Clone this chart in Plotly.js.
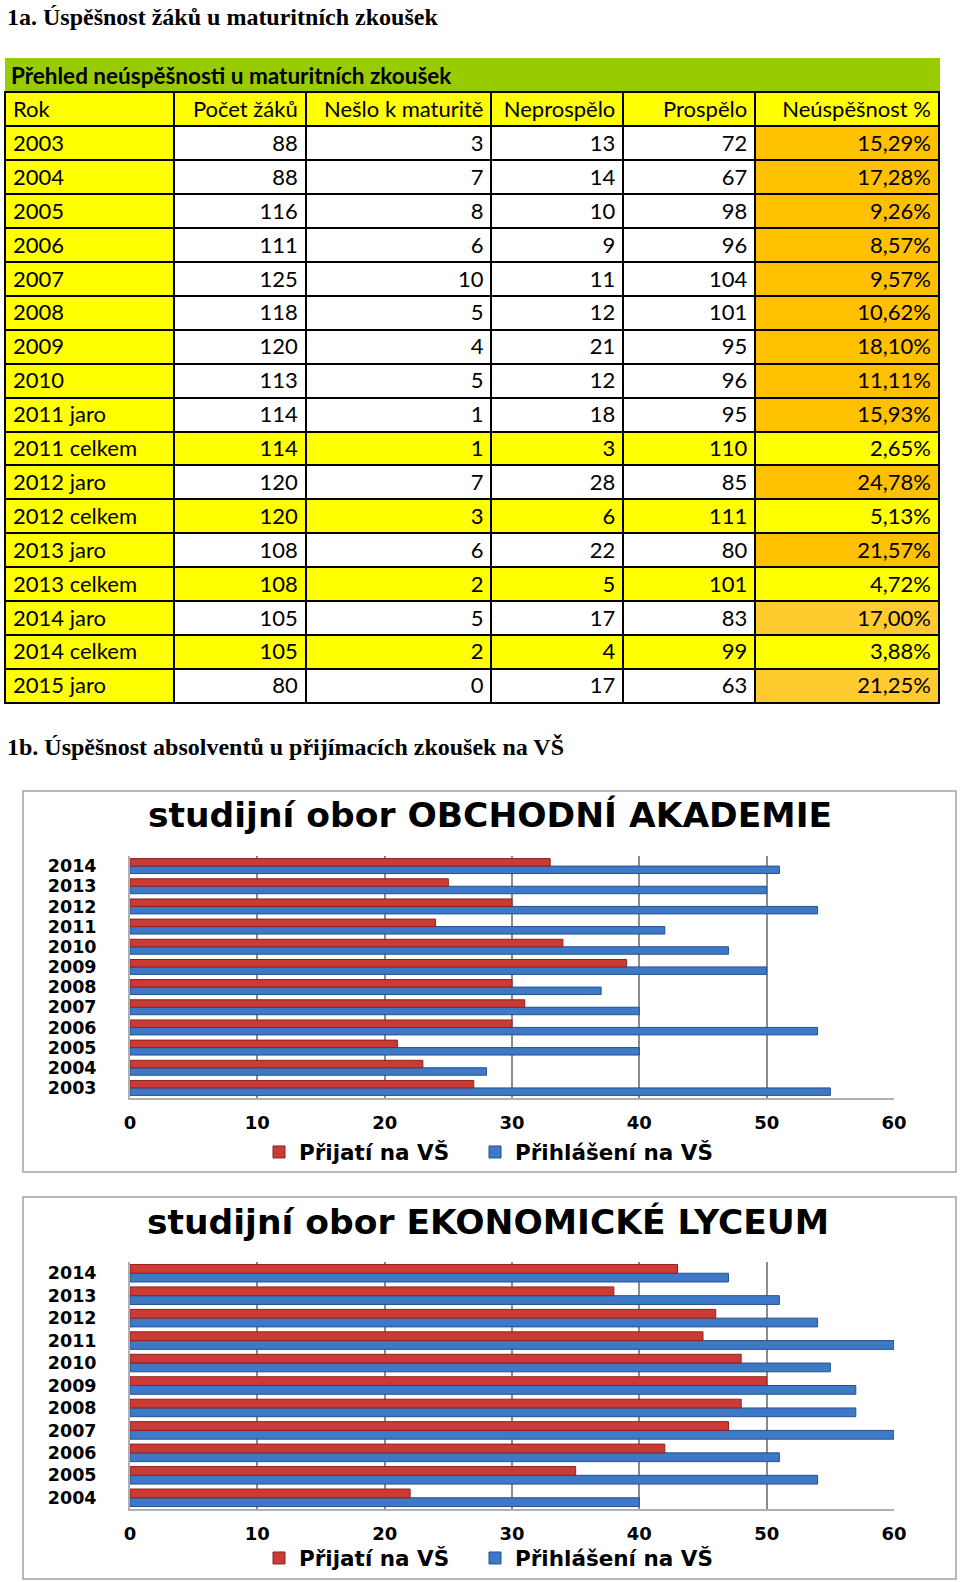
<!DOCTYPE html>
<html>
<head>
<meta charset="utf-8">
<script src="https://cdn.plot.ly/plotly-3.0.1.min.js"></script>
<style>
  body { margin: 0; background: #fff; }
  #page { width: 960px; height: 1582px; }
</style>
</head>
<body>
<div id="page"></div>
<script>
// Table 1a - maturity results
const tableHeader = ["Rok", "Počet žáků", "Nešlo k maturitě", "Neprospělo", "Prospělo", "Neúspěšnost %"];
const rokLabels = ["2003", "2004", "2005", "2006", "2007", "2008", "2009", "2010",
  "2011 jaro", "2011 celkem", "2012 jaro", "2012 celkem", "2013 jaro", "2013 celkem",
  "2014 jaro", "2014 celkem", "2015 jaro"];
const pocetZaku = [88, 88, 116, 111, 125, 118, 120, 113, 114, 114, 120, 120, 108, 108, 105, 105, 80];
const nesloKMaturite = [3, 7, 8, 6, 10, 5, 4, 5, 1, 1, 7, 3, 6, 2, 5, 2, 0];
const neprospelo = [13, 14, 10, 9, 11, 12, 21, 12, 18, 3, 28, 6, 22, 5, 17, 4, 17];
const prospelo = [72, 67, 98, 96, 104, 101, 95, 96, 95, 110, 85, 111, 80, 101, 83, 99, 63];
const neuspesnost = [15.29, 17.28, 9.26, 8.57, 9.57, 10.62, 18.10, 11.11, 15.93, 2.65,
  24.78, 5.13, 21.57, 4.72, 17.00, 3.88, 21.25];

// Charts 1b - university admissions
const oaYears = ["2003", "2004", "2005", "2006", "2007", "2008", "2009", "2010", "2011", "2012", "2013", "2014"];
const oaPrijati = [27, 23, 21, 30, 31, 30, 39, 34, 24, 30, 25, 33];
const oaPrihlaseni = [55, 28, 40, 54, 40, 37, 50, 47, 42, 54, 50, 51];

const elYears = ["2004", "2005", "2006", "2007", "2008", "2009", "2010", "2011", "2012", "2013", "2014"];
const elPrijati = [22, 35, 42, 47, 48, 50, 48, 45, 46, 38, 43];
const elPrihlaseni = [40, 54, 51, 60, 57, 57, 55, 60, 54, 51, 47];

const W = 960, H = 1582;
const px = x => x / W;          // pixel -> paper x
const py = y => 1 - y / H;      // pixel -> paper y

const YELLOW = "#FFFF00";
const ORANGE = "#FFC000";
const LIGHT_ORANGE = "#FFCB2E";
const RED = "#CC3A36";
const BLUE = "#3D79C6";
const tableFont = "Lato, 'Open Sans', sans-serif";
const chartFont = "'DejaVu Sans', Verdana, sans-serif";
const serifFont = "'Liberation Serif', 'Times New Roman', serif";

// fill colours for the table, per column
const isCelkem = rokLabels.map(r => r.indexOf("celkem") >= 0);
const whiteOrYellow = isCelkem.map(c => c ? YELLOW : "#FFFFFF");
const pctFill = rokLabels.map((r, i) => {
  if (isCelkem[i]) return YELLOW;
  if (r === "2014 jaro" || r === "2015 jaro") return LIGHT_ORANGE;
  return ORANGE;
});

const fmtPct = v => v.toFixed(2).replace(".", ",") + "%";

const table = {
  type: "table",
  domain: { x: [px(5), px(940)], y: [py(708), py(92)] },
  columnwidth: [169, 132, 186, 132, 132, 184],
  header: {
    values: tableHeader,
    align: ["left", "right", "right", "right", "right", "right"],
    fill: { color: YELLOW },
    line: { color: "#000", width: 2 },
    font: { family: tableFont, size: 22, color: "#000" },
    height: 34.4
  },
  cells: {
    values: [rokLabels, pocetZaku, nesloKMaturite, neprospelo, prospelo, neuspesnost.map(fmtPct)],
    align: ["left", "right", "right", "right", "right", "right"],
    fill: { color: [rokLabels.map(() => YELLOW), whiteOrYellow, whiteOrYellow, whiteOrYellow, whiteOrYellow, pctFill] },
    line: { color: "#000", width: 2 },
    font: { family: tableFont, size: 22, color: "#000" },
    height: 33.9
  }
};

// each series gets its own legend box so the two entries can be spaced like the original
function barPair(years, prijati, prihlaseni, xa, ya, redLegend, blueLegend, w) {
  // blue first so it sits below the red bar in each group
  return [
    {
      type: "bar", orientation: "h", name: "Přihlášení na VŠ",
      y: years, x: prihlaseni, xaxis: xa, yaxis: ya, legend: blueLegend,
      width: w, offset: -w,
      marker: { color: BLUE, line: { color: "#23528f", width: 1 } },
      hoverinfo: "x+y"
    },
    {
      type: "bar", orientation: "h", name: "Přijatí na VŠ",
      y: years, x: prijati, xaxis: xa, yaxis: ya, legend: redLegend,
      width: w, offset: 0,
      marker: { color: RED, line: { color: "#8c2320", width: 1 } },
      hoverinfo: "x+y"
    }
  ];
}

const data = [table]
  .concat(barPair(oaYears, oaPrijati, oaPrihlaseni, "x", "y", "legend", "legend2", 0.37))
  .concat(barPair(elYears, elPrijati, elPrihlaseni, "x2", "y2", "legend3", "legend4", 0.39));

function xAxis(anchor) {
  return {
    domain: [px(130), px(894)],
    anchor: anchor,
    range: [0, 60],
    dtick: 10,
    showgrid: true,
    gridcolor: "#8c8c8c",
    gridwidth: 2,
    zeroline: false,
    showline: true,
    linecolor: "#b0b0b0",
    linewidth: 2,
    ticks: "",
    ticklabelstandoff: 7,
    tickfont: { family: chartFont, size: 18, color: "#000", weight: 700 },
    fixedrange: true
  };
}

function yAxis(top, bottom, anchor) {
  return {
    domain: [py(bottom), py(top)],
    anchor: anchor,
    type: "category",
    tickmode: "linear",
    dtick: 1,
    showgrid: false,
    zeroline: false,
    showline: true,
    linecolor: "#b0b0b0",
    linewidth: 2,
    ticks: "",
    ticklabelstandoff: 28,
    tickfont: { family: chartFont, size: 17.5, color: "#000", weight: 700 },
    fixedrange: true
  };
}

function legendAt(x, y) {
  return {
    orientation: "h",
    xanchor: "left",
    yanchor: "middle",
    x: px(x),
    y: py(y),
    font: { family: chartFont, size: 21.5, color: "#000", weight: 700 },
    itemwidth: 30,
    bgcolor: "rgba(0,0,0,0)"
  };
}

const layout = {
  width: W,
  height: H,
  margin: { l: 0, r: 0, t: 0, b: 0 },
  paper_bgcolor: "#fff",
  plot_bgcolor: "rgba(0,0,0,0)",
  showlegend: true,
  xaxis: xAxis("y"),
  yaxis: yAxis(856, 1098, "x"),
  xaxis2: xAxis("y2"),
  yaxis2: yAxis(1262, 1509, "x2"),
  legend: legendAt(259, 1152),
  legend2: legendAt(475, 1152),
  legend3: legendAt(259, 1558),
  legend4: legendAt(475, 1558),
  shapes: [
    // green title bar above the table
    { type: "rect", xref: "paper", yref: "paper", x0: px(5), x1: px(940), y0: py(92), y1: py(58),
      fillcolor: "#99CC00", line: { width: 0 }, layer: "below" },
    // chart frames
    { type: "rect", xref: "paper", yref: "paper", x0: px(23), x1: px(956), y0: py(1172), y1: py(791),
      line: { color: "#a3a3a3", width: 1.5 } },
    { type: "rect", xref: "paper", yref: "paper", x0: px(23), x1: px(956), y0: py(1579), y1: py(1197),
      line: { color: "#a3a3a3", width: 1.5 } }
  ],
  annotations: [
    { text: "<b>1a. Úspěšnost žáků u maturitních zkoušek</b>", xref: "paper", yref: "paper",
      x: px(5), y: py(17), xanchor: "left", yanchor: "middle", showarrow: false,
      font: { family: serifFont, size: 24, color: "#000" } },
    { text: "<b>Přehled neúspěšnosti u maturitních zkoušek</b>", xref: "paper", yref: "paper",
      x: px(9), y: py(75), xanchor: "left", yanchor: "middle", showarrow: false,
      font: { family: tableFont, size: 22.5, color: "#000" } },
    { text: "<b>1b. Úspěšnost absolventů u přijímacích zkoušek na VŠ</b>", xref: "paper", yref: "paper",
      x: px(5), y: py(747), xanchor: "left", yanchor: "middle", showarrow: false,
      font: { family: serifFont, size: 24, color: "#000" } },
    { text: "<b>studijní obor OBCHODNÍ AKADEMIE</b>", xref: "paper", yref: "paper",
      x: px(490), y: py(815), xanchor: "center", yanchor: "middle", showarrow: false,
      font: { family: chartFont, size: 34.5, color: "#000" } },
    { text: "<b>studijní obor EKONOMICKÉ LYCEUM</b>", xref: "paper", yref: "paper",
      x: px(488), y: py(1222), xanchor: "center", yanchor: "middle", showarrow: false,
      font: { family: chartFont, size: 34.5, color: "#000" } }
  ]
};

Plotly.newPlot("page", data, layout, { displayModeBar: false });
</script>
</body>
</html>
